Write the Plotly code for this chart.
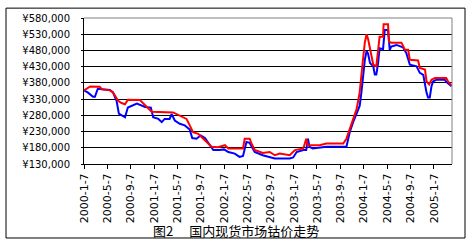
import plotly.graph_objects as go

# Red series (date, price in yuan/ton)
red_dates = ["2000-01-07","2000-01-28","2000-02-08","2000-03-29","2000-04-10","2000-05-21","2000-06-06",
             "2000-07-03","2000-07-21","2000-08-08","2000-08-23","2000-10-25","2000-11-10","2000-12-25",
             "2001-04-16","2001-05-21","2001-06-25","2001-07-12","2001-07-29","2001-08-25","2001-09-12",
             "2001-10-16","2001-11-03","2001-12-06","2002-01-12","2002-01-29","2002-04-16","2002-04-25",
             "2002-05-21","2002-05-29","2002-06-16","2002-07-28","2002-09-03","2002-09-29","2002-10-25",
             "2002-12-16","2003-01-12","2003-02-25","2003-03-12","2003-03-21","2003-05-21","2003-06-25",
             "2003-09-21","2003-10-08","2003-10-25","2003-11-12","2003-11-30","2003-12-16","2003-12-25",
             "2004-01-03","2004-01-12","2004-01-21","2004-01-29","2004-02-08","2004-02-25","2004-03-12",
             "2004-03-21","2004-03-29","2004-04-16","2004-04-19","2004-05-12","2004-05-17","2004-05-29",
             "2004-07-21","2004-07-29","2004-08-08","2004-08-25","2004-09-03","2004-10-16","2004-10-25",
             "2004-11-21","2004-11-29","2004-12-13","2004-12-25","2005-01-12","2005-03-12","2005-03-21",
             "2005-04-08"]
red_values = [357000,366000,369000,368000,360000,357000,351000,
              325000,318000,314000,328000,327000,318000,291000,
              289000,279000,269000,249000,228000,223000,213000,
              193000,183000,182000,188000,178000,178000,208000,
              208000,195000,173000,164000,167000,157000,162000,
              157000,173000,178000,208000,188000,188000,193000,
              193000,208000,238000,269000,299000,350000,411000,
              456000,505000,530000,515000,482000,436000,431000,
              471000,522000,522000,561000,561000,507000,504000,
              504000,495000,482000,482000,451000,449000,426000,
              421000,385000,375000,390000,395000,395000,385000,
              372000]

# Blue series
blue_dates = ["2000-01-07","2000-01-28","2000-02-23","2000-03-04","2000-03-19","2000-05-21","2000-06-06",
              "2000-06-25","2000-07-07","2000-08-08","2000-08-23","2000-10-09","2000-11-21","2000-12-21",
              "2001-01-02","2001-01-29","2001-02-16","2001-03-03","2001-03-29","2001-04-08","2001-04-25",
              "2001-05-21","2001-06-16","2001-07-12","2001-07-25","2001-08-16","2001-09-07","2001-09-29",
              "2001-10-25","2001-11-12","2001-12-16","2002-01-07","2002-01-29","2002-03-04","2002-03-29",
              "2002-04-16","2002-05-04","2002-05-21","2002-06-16","2002-07-28","2002-09-29","2002-12-16",
              "2003-01-03","2003-01-21","2003-02-25","2003-03-12","2003-03-21","2003-03-29","2003-04-15",
              "2003-05-21","2003-06-25","2003-10-08","2003-10-25","2003-11-12","2003-11-30","2003-12-16",
              "2003-12-25","2004-01-03","2004-01-12","2004-01-21","2004-01-29","2004-02-08","2004-02-25",
              "2004-03-04","2004-03-12","2004-03-21","2004-03-29","2004-04-16","2004-04-25","2004-05-12",
              "2004-05-21","2004-05-29","2004-06-25","2004-07-29","2004-08-16","2004-09-03","2004-10-08",
              "2004-10-25","2004-11-12","2004-11-29","2004-12-07","2004-12-16","2004-12-25","2005-01-03",
              "2005-01-21","2005-03-04","2005-03-12","2005-04-08"]
blue_values = [357000,350000,337000,337000,362000,358000,351000,
               325000,285000,274000,304000,316000,306000,304000,
               274000,269000,259000,269000,269000,284000,264000,
               254000,249000,236000,210000,208000,218000,210000,
               188000,173000,173000,175000,167000,162000,152000,
               155000,198000,195000,167000,157000,147000,147000,
               150000,167000,173000,173000,208000,183000,178000,
               180000,183000,183000,228000,259000,284000,309000,
               350000,411000,451000,478000,470000,441000,431000,
               406000,406000,440000,487000,484000,543000,543000,
               482000,492000,497000,490000,471000,436000,431000,
               411000,405000,350000,335000,335000,370000,385000,
               390000,390000,383000,370000]

y_tickvals = [130000,180000,230000,280000,330000,380000,430000,480000,530000,580000]
y_ticktext = ["¥130,000","¥180,000","¥230,000","¥280,000","¥330,000","¥380,000",
              "¥430,000","¥480,000","¥530,000","¥580,000"]

x_tickvals = ["2000-01-07","2000-05-07","2000-09-07","2001-01-07","2001-05-07","2001-09-07",
              "2002-01-07","2002-05-07","2002-09-07","2003-01-07","2003-05-07","2003-09-07",
              "2004-01-07","2004-05-07","2004-09-07","2005-01-07"]
x_ticktext = ["2000-1-7","2000-5-7","2000-9-7","2001-1-7","2001-5-7","2001-9-7",
              "2002-1-7","2002-5-7","2002-9-7","2003-1-7","2003-5-7","2003-9-7",
              "2004-1-7","2004-5-7","2004-9-7","2005-1-7"]

title_text = "图2\u3000 国内现货市场钴价走势"

fig = go.Figure()
fig.add_trace(go.Scatter(x=blue_dates, y=blue_values, mode="lines",
                         line=dict(color="#0000FF", width=2), showlegend=False))
fig.add_trace(go.Scatter(x=red_dates, y=red_values, mode="lines",
                         line=dict(color="#FF0000", width=2), showlegend=False))

W, H = 473, 247
L, R, T, B = 84, 21, 16, 83
pw, ph = W - L - R, H - T - B

def px(x):
    return (x - L) / pw

def py(y):
    return (H - B - y) / ph

fig.update_layout(
    width=W, height=H,
    margin=dict(l=L, r=R, t=T, b=B, pad=0),
    paper_bgcolor="white", plot_bgcolor="white",
    font=dict(family="DejaVu Sans", size=11, color="black"),
    xaxis=dict(type="date", range=["2000-01-07", "2005-04-11"],
               tickvals=x_tickvals, ticktext=x_ticktext, tickangle=-90,
               showgrid=False, showline=True, linecolor="black", linewidth=1,
               ticks="outside", ticklen=4, tickcolor="black", tickwidth=1,
               tickfont=dict(family="DejaVu Sans", size=11), zeroline=False),
    yaxis=dict(range=[130000, 580000], tickvals=y_tickvals, ticktext=y_ticktext,
               showgrid=True, gridcolor="black", gridwidth=1,
               showline=True, linecolor="black", linewidth=1,
               ticks="outside", ticklen=2, tickcolor="black", tickwidth=1,
               ticklabelstandoff=9,
               tickfont=dict(family="DejaVu Sans", size=10), zeroline=False),
    shapes=[
        dict(type="line", xref="paper", yref="paper", x0=0, x1=1, y0=1, y1=1,
             line=dict(color="#808080", width=1), layer="above"),
        dict(type="line", xref="paper", yref="paper", x0=1, x1=1, y0=0, y1=1,
             line=dict(color="#808080", width=1), layer="above"),
        dict(type="rect", xref="paper", yref="paper",
             x0=px(6), x1=px(465), y0=py(239), y1=py(6),
             line=dict(color="black", width=1), layer="below"),
    ],
    annotations=[
        dict(text=title_text, xref="paper", yref="paper", x=px(236), y=py(231),
             xanchor="center", yanchor="middle", showarrow=False,
             font=dict(family="Noto Sans CJK SC", size=13, color="black")),
    ],
)

fig.write_html("out.html")
